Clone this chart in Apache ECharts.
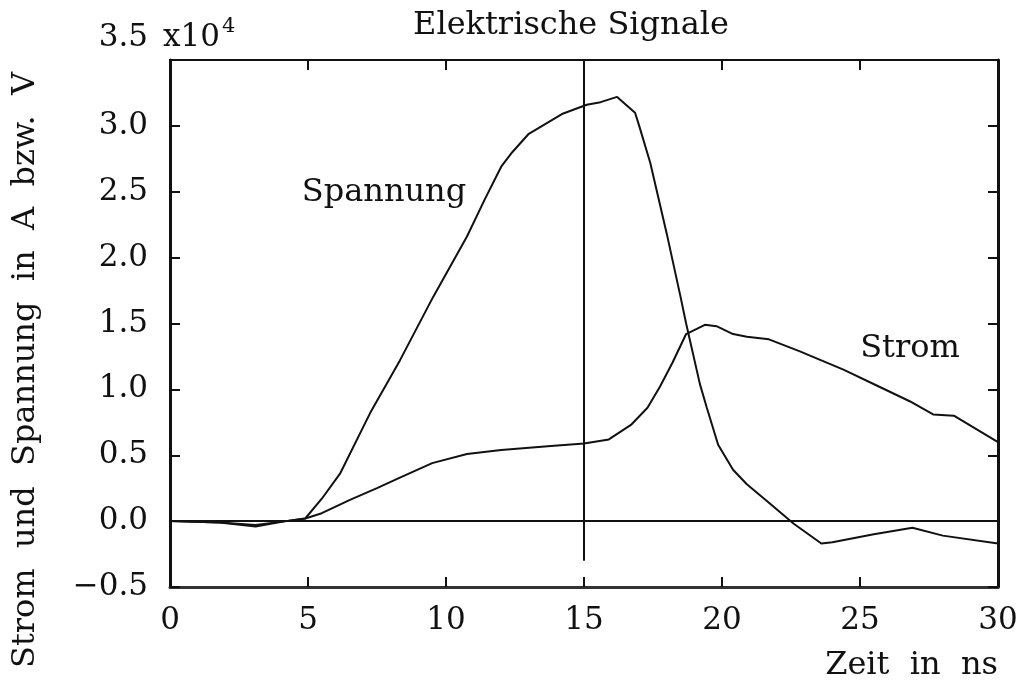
<!DOCTYPE html>
<html>
<head>
<meta charset="utf-8">
<script src="https://cdn.jsdelivr.net/npm/echarts@6/dist/echarts.min.js"></script>
<style>
html,body{margin:0;padding:0;background:#fff;}
#chart{width:1026px;height:686px;}
</style>
</head>
<body>
<div id="chart"></div>
<script>
// ---- data (values in units of 10^4) ----
var spannungTime = [0, 1.8, 3.1, 4.2, 4.9, 5.5, 6.16, 7.25, 8.33, 9.53, 10.76, 11.4, 12.0, 12.4, 13.0, 14.2, 15.1, 15.6, 16.2, 16.85, 17.0, 17.4, 18.0, 18.5, 18.7, 19.2, 19.45, 19.86, 20.4, 20.9, 21.7, 22.6, 23.6, 24.0, 25.5, 26.9, 28.0, 30];
var spannungValue = [0, -0.01, -0.04, 0, 0.02, 0.17, 0.36, 0.82, 1.22, 1.70, 2.16, 2.44, 2.69, 2.8, 2.94, 3.09, 3.16, 3.18, 3.22, 3.10, 3.0, 2.72, 2.18, 1.70, 1.50, 1.04, 0.86, 0.58, 0.39, 0.28, 0.14, -0.02, -0.17, -0.16, -0.10, -0.05, -0.11, -0.17];
var stromTime = [0, 1.8, 3.1, 4.2, 4.9, 5.5, 6.5, 7.5, 8.33, 9.5, 10.76, 12.0, 13.8, 15.0, 15.9, 16.7, 17.3, 17.75, 18.2, 18.7, 19.38, 19.8, 20.4, 20.9, 21.7, 22.8, 24.4, 25.7, 26.8, 27.65, 28.4, 30];
var stromValue = [0, -0.01, -0.03, 0, 0.02, 0.06, 0.16, 0.25, 0.33, 0.44, 0.51, 0.54, 0.57, 0.59, 0.62, 0.73, 0.86, 1.02, 1.20, 1.42, 1.49, 1.48, 1.42, 1.40, 1.38, 1.29, 1.15, 1.02, 0.91, 0.81, 0.80, 0.60];
var xTicks = [0, 5, 10, 15, 20, 25, 30];
var yTicks = [-0.5, 0.0, 0.5, 1.0, 1.5, 2.0, 2.5, 3.0, 3.5];
var markerTime = 15;          // vertical reference line
var markerRange = [3.5, -0.3];
var zeroLevel = 0;

var titleText = 'Elektrische Signale';
var xName = 'Zeit  in  ns';
var yName = 'Strom  und  Spannung  in  A  bzw.  V';

function zip(a, b) { return a.map(function (t, i) { return [t, b[i]]; }); }

var FONT = 'DejaVu Serif';
var INK = '#111';

var chart = echarts.init(document.getElementById('chart'), null, {renderer: 'canvas'});

function yLabel(v) {
  var s = (v < 0 ? '\u2212' : '') + Math.abs(v).toFixed(1);
  if (Math.abs(v - yTicks[yTicks.length - 1]) < 1e-9) return '{top|' + s + '}';
  return s;
}

var axisCommon = {
  type: 'value',
  splitLine: {show: false},
  axisTick: {inside: true, length: 10, lineStyle: {color: INK, width: 2}},
  axisLine: {show: true, onZero: false, lineStyle: {color: INK, width: 3}}
};

chart.setOption({
  animation: false,
  backgroundColor: '#fff',
  grid: {left: 170, right: 28, top: 60, bottom: 99, containLabel: false},
  xAxis: [
    Object.assign({}, axisCommon, {
      position: 'bottom', min: xTicks[0], max: xTicks[xTicks.length - 1], interval: 5,
      axisLine: {show: true, onZero: false, lineStyle: {color: '#333', width: 3}},
      axisLabel: {color: INK, fontFamily: FONT, fontSize: 31, margin: 18}
    }),
    Object.assign({}, axisCommon, {
      position: 'top', min: xTicks[0], max: xTicks[xTicks.length - 1], interval: 5,
      axisLine: {show: true, onZero: false, lineStyle: {color: INK, width: 2}},
      axisLabel: {show: false}
    })
  ],
  yAxis: [
    Object.assign({}, axisCommon, {
      position: 'left', min: yTicks[0], max: yTicks[yTicks.length - 1], interval: 0.5,
      axisLabel: {color: INK, fontFamily: FONT, fontSize: 31, margin: 22, formatter: yLabel,
        rich: {top: {fontFamily: FONT, fontSize: 31, color: INK, padding: [0, 0, 44, 0]}}}
    }),
    Object.assign({}, axisCommon, {
      position: 'right', min: yTicks[0], max: yTicks[yTicks.length - 1], interval: 0.5,
      axisLabel: {show: false}
    })
  ],
  series: [
    {
      name: 'Spannung', type: 'line', xAxisIndex: 0, yAxisIndex: 0,
      data: zip(spannungTime, spannungValue),
      showSymbol: false, smooth: false,
      lineStyle: {color: INK, width: 2},
      markLine: {
        silent: true, symbol: 'none', label: {show: false},
        lineStyle: {color: INK, width: 2, type: 'solid'},
        data: [
          {yAxis: zeroLevel},
          [{coord: [markerTime, markerRange[0]]}, {coord: [markerTime, markerRange[1]]}]
        ]
      }
    },
    {
      name: 'Strom', type: 'line', xAxisIndex: 0, yAxisIndex: 0,
      data: zip(stromTime, stromValue),
      showSymbol: false, smooth: false,
      lineStyle: {color: INK, width: 2}
    }
  ],
  graphic: [
    {type: 'text', x: 571, y: 26, style: {text: titleText, font: '32px "' + FONT + '"', fill: INK, textAlign: 'center', textVerticalAlign: 'middle'}},
    {type: 'text', x: 163, y: 16, style: {text: '{b|x10}{s|4}', fill: INK,
      rich: {b: {font: '31px "' + FONT + '"', fill: INK, verticalAlign: 'bottom'},
             s: {font: '21px "' + FONT + '"', fill: INK, verticalAlign: 'top', padding: [0, 0, 16, 2]}}}},
    {type: 'text', x: 26, y: 370, rotation: Math.PI / 2,
      style: {text: yName, font: '32px "' + FONT + '"', fill: INK, textAlign: 'center', textVerticalAlign: 'middle'}},
    {type: 'text', x: 998, y: 666, style: {text: xName, font: '32px "' + FONT + '"', fill: INK, textAlign: 'right', textVerticalAlign: 'middle'}},
    {type: 'text', x: 384, y: 193, style: {text: 'Spannung', font: '32px "' + FONT + '"', fill: INK, textAlign: 'center', textVerticalAlign: 'middle'}},
    {type: 'text', x: 910, y: 349, style: {text: 'Strom', font: '32px "' + FONT + '"', fill: INK, textAlign: 'center', textVerticalAlign: 'middle'}}
  ]
});
</script>
</body>
</html>
